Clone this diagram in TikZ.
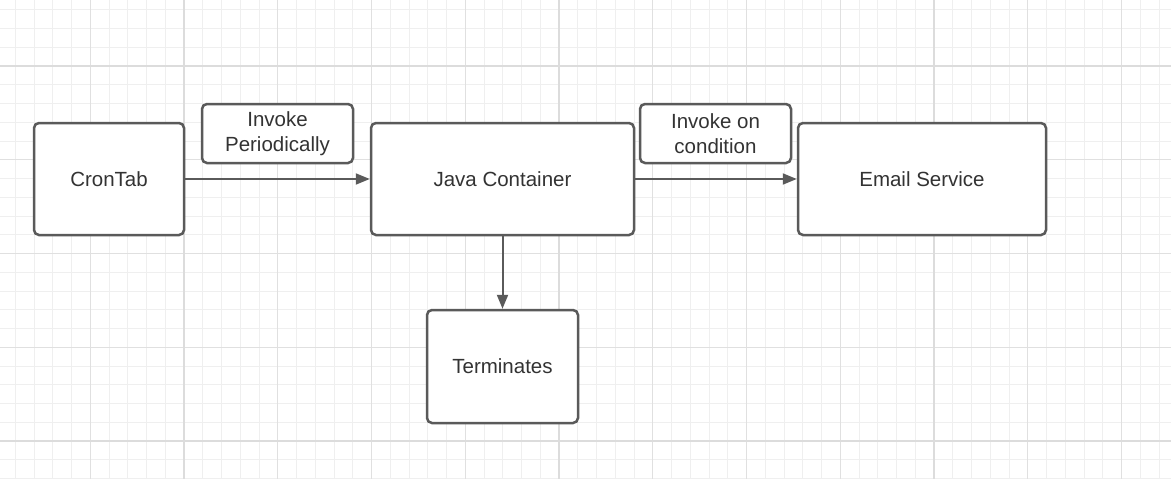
\documentclass[tikz,border=0pt]{standalone}
\usepackage{fontspec}
\setmainfont{Liberation Sans}
\usetikzlibrary{arrows.meta}
\definecolor{minorc}{HTML}{EFEFEF}
\definecolor{medc}{HTML}{E0E0E0}
\definecolor{majc}{HTML}{DCDCDC}
\definecolor{boxc}{HTML}{5A5A5A}
\definecolor{txtc}{HTML}{333333}
\tikzset{
  minorline/.style={draw=minorc,line width=1pt},
  medline/.style={draw=medc,line width=1pt},
  majline/.style={draw=majc,line width=2pt},
  blk/.style={draw=boxc,line width=2.5pt,fill=white,rounded corners=5pt,
    text=txtc,font=\fontsize{20.5}{24.5}\selectfont,align=center,inner sep=0pt},
  conn/.style={draw=boxc,line width=2pt,-{Triangle[length=14pt,width=11pt]}}
}
\begin{document}
\begin{tikzpicture}[x=1pt,y=-1pt]
\useasboundingbox (0,0) rectangle (1171,479);
\fill[white] (0,0) rectangle (1171,479);
% grid
\foreach \i in {0,...,62} {\draw[minorline] ({15.25+18.75*\i},0) -- ++(0,479);}
\foreach \i in {0,...,25} {\draw[minorline] (0,{9.75+18.75*\i}) -- ++(1171,0);}
\foreach \i in {0,...,11} {\draw[medline] ({90.25+93.75*\i},0) -- ++(0,479);}
\foreach \i in {0,...,4} {\draw[medline] (0,{66+93.75*\i}) -- ++(1171,0);}
\foreach \x in {184,559,934} {\draw[majline] (\x,0) -- ++(0,479);}
\foreach \y in {66,441} {\draw[majline] (0,\y) -- ++(1171,0);}
% nodes
\node[blk,minimum width=150pt,minimum height=112pt] (cron) at (109,179) {CronTab};
\node[blk,minimum width=151pt,minimum height=59pt] (inv1) at (277.5,133.5) {Invoke\\Periodically};
\node[blk,minimum width=263pt,minimum height=112pt] (java) at (502.5,179) {Java Container};
\node[blk,minimum width=151pt,minimum height=59pt] (inv2) at (715.5,133.5) {Invoke on\\condition};
\node[blk,minimum width=248pt,minimum height=112pt] (email) at (922,179) {Email Service};
\node[blk,minimum width=151pt,minimum height=113pt] (term) at (502.5,366.5) {Terminates};
% connectors
\draw[conn] (cron.east) -- (java.west);
\draw[conn] (java.east) -- (email.west);
\draw[conn] (java.south) -- (term.north);
\end{tikzpicture}
\end{document}
